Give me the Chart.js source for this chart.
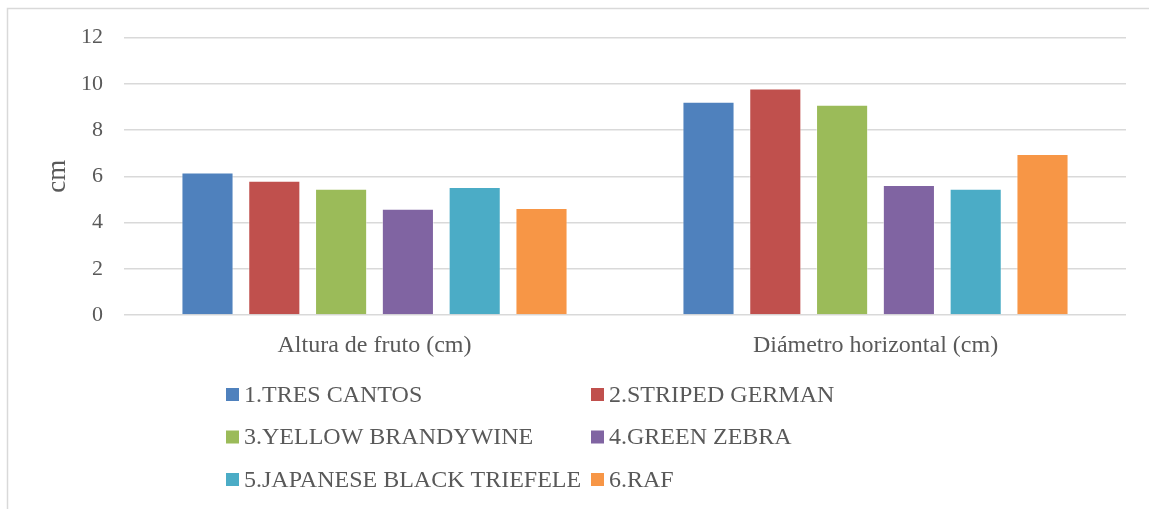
<!DOCTYPE html>
<html>
<head>
<meta charset="utf-8">
<script src="https://cdn.jsdelivr.net/npm/chart.js@4"></script>
<style>
  html, body { margin: 0; padding: 0; background: #ffffff; }
  #wrap { position: relative; width: 1149px; height: 509px; }
</style>
</head>
<body>
<div id="wrap"><canvas id="chart" width="1149" height="509"></canvas></div>
<script>
// Fruit measurements per tomato variety (cm)
const categories = ['Altura de fruto (cm)', 'Diámetro horizontal (cm)'];
const varieties = ['1.TRES CANTOS', '2.STRIPED GERMAN', '3.YELLOW BRANDYWINE', '4.GREEN ZEBRA', '5.JAPANESE BLACK TRIEFELE', '6.RAF'];
const tresCantos = [6.16, 9.22];
const stripedGerman = [5.81, 9.80];
const yellowBrandywine = [5.46, 9.09];
const greenZebra = [4.60, 5.62];
const japaneseBlack = [5.53, 5.46];
const raf = [4.63, 6.96];
const yTicks = [0, 2, 4, 6, 8, 10, 12];
const yTitle = 'cm';

const seriesValues = [tresCantos, stripedGerman, yellowBrandywine, greenZebra, japaneseBlack, raf];
const palette = ['#4F81BD', '#C0504D', '#9BBB59', '#8064A2', '#4BACC6', '#F79646'];

const FONT = 'Liberation Serif, Times New Roman, serif';
const TEXT = '#595959';
const GRID = '#D9D9D9';

// Outer chart frame (left and top edges visible)
const framePlugin = {
  id: 'frame',
  beforeDraw(chart) {
    const ctx = chart.ctx;
    ctx.save();
    ctx.strokeStyle = GRID;
    ctx.lineWidth = 1.5;
    ctx.strokeRect(7.5, 8.5, chart.width + 20, chart.height + 20);
    ctx.restore();
  }
};

// Two-column legend below the axis labels
const gridLegend = {
  id: 'gridLegend',
  afterDraw(chart, args, opts) {
    const ctx = chart.ctx;
    const base = chart.chartArea.bottom;
    ctx.save();
    ctx.font = opts.fontSize + 'px ' + FONT;
    ctx.textBaseline = 'middle';
    ctx.textAlign = 'left';
    chart.data.datasets.forEach((ds, i) => {
      const col = i % 2, row = Math.floor(i / 2);
      const x = opts.columns[col];
      const cy = base + opts.firstRow + row * opts.rowGap;
      ctx.fillStyle = ds.backgroundColor;
      ctx.fillRect(x, cy - opts.box / 2, opts.box, opts.box);
      ctx.fillStyle = TEXT;
      ctx.fillText(ds.label, x + opts.box + 5, cy + 1);
    });
    ctx.restore();
  }
};

new Chart(document.getElementById('chart'), {
  type: 'bar',
  data: {
    labels: categories,
    datasets: varieties.map((name, i) => ({
      label: name,
      data: seriesValues[i],
      backgroundColor: palette[i],
      borderColor: 'rgba(255,255,255,0.45)',
      borderWidth: 1,
      categoryPercentage: 0.80,
      barPercentage: 0.78
    }))
  },
  options: {
    responsive: false,
    animation: false,
    layout: { padding: { left: 0, right: 23, top: 37.5, bottom: 144 } },
    plugins: {
      legend: { display: false },
      tooltip: { enabled: false },
      gridLegend: { columns: [226, 591], firstRow: 79.5, rowGap: 42.5, box: 13, fontSize: 24 }
    },
    scales: {
      x: {
        grid: { display: false, drawTicks: false },
        border: { display: false },
        ticks: { color: TEXT, font: { family: FONT, size: 24 }, padding: 16, maxRotation: 0 },
        afterFit(scale) { scale.height = 50; }
      },
      y: {
        min: 0,
        max: 12,
        afterBuildTicks(scale) { scale.ticks = yTicks.map(v => ({ value: v })); },
        grid: { color: GRID, lineWidth: 1.5, drawTicks: false },
        border: { display: false },
        ticks: { color: TEXT, font: { family: FONT, size: 22 }, padding: 21 },
        title: { display: true, text: yTitle, color: TEXT, font: { family: FONT, size: 27 }, padding: { top: 42, bottom: 0 } },
        afterFit(scale) { scale.width = 124; }
      }
    }
  },
  plugins: [framePlugin, gridLegend]
});
</script>
</body>
</html>
